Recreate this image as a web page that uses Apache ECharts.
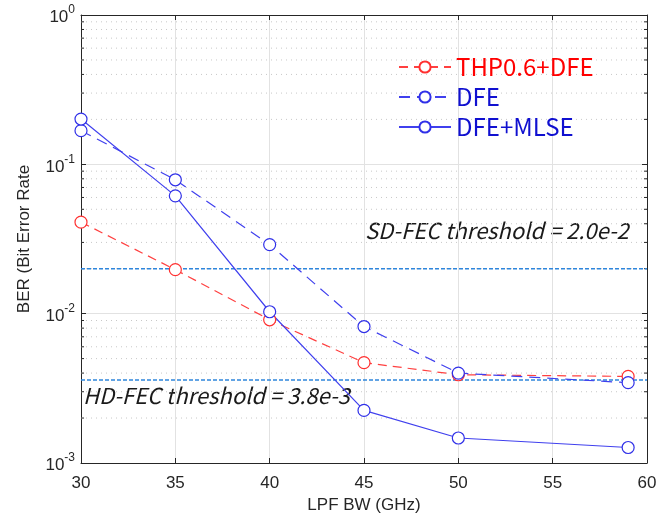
<!DOCTYPE html>
<html>
<head>
<meta charset="utf-8">
<script src="https://cdn.jsdelivr.net/npm/echarts@6/dist/echarts.min.js"></script>
<style>
html,body{margin:0;padding:0;background:#fff;}
#chart{width:672px;height:523px;}
</style>
</head>
<body>
<div id="chart"></div>
<script>
// LPF 带宽
var bw = [30, 35, 40, 45, 50, 59];
// 各方案 BER
var thpDfe = [0.041, 0.0197, 0.0091, 0.0047, 0.0039, 0.0038];
var dfe = [0.168, 0.0788, 0.029, 0.0082, 0.0040, 0.00345];
var dfeMlse = [0.201, 0.0615, 0.0103, 0.00225, 0.00147, 0.00127];
// 门限
var sdFec = 0.02;
var hdFec = 0.0036;
// 对数轴次刻度
var minorTicks = [0.002, 0.003, 0.004, 0.005, 0.006, 0.007, 0.008, 0.009,
	0.02, 0.03, 0.04, 0.05, 0.06, 0.07, 0.08, 0.09,
	0.2, 0.3, 0.4, 0.5, 0.6, 0.7, 0.8, 0.9];

function pairs(ys){
	return bw.map(function(x, i){ return [x, ys[i]]; });
}

var chart = echarts.init(document.getElementById('chart'));
var tickFont = 'Liberation Sans, Arial, sans-serif';
var krFont = 'Noto Sans CJK KR, sans-serif';
var fecLine = {color: '#2f86dc', width: 1.6, type: [4, 2]};

var option = {
	backgroundColor: '#fff',
	animation: false,
	grid: {left: 81, right: 25, top: 15, bottom: 60},
	legend: {
		orient: 'vertical',
		left: 393,
		top: 50,
		itemWidth: 52,
		itemHeight: 14,
		itemGap: 6,
		textStyle: {fontSize: 24, fontFamily: krFont},
		data: [
			{name: 'THP0.6+DFE', textStyle: {color: '#ff0000'}},
			{name: 'DFE', textStyle: {color: '#1010d0'}},
			{name: 'DFE+MLSE', textStyle: {color: '#1010d0'}}
		]
	},
	xAxis: [{
		type: 'value', min: 30, max: 60, interval: 5,
		name: 'LPF BW (GHz)', nameLocation: 'middle', nameGap: 34,
		nameTextStyle: {fontSize: 17, fontFamily: tickFont, color: '#262626'},
		axisLine: {lineStyle: {color: '#262626'}},
		axisTick: {inside: true, length: 5, lineStyle: {color: '#262626'}},
		axisLabel: {fontSize: 17, fontFamily: tickFont, color: '#262626', margin: 12},
		splitLine: {show: true, lineStyle: {color: '#e2e2e2'}}
	}, {
		type: 'value', min: 30, max: 60, interval: 5, position: 'top',
		axisLine: {lineStyle: {color: '#262626'}},
		axisTick: {inside: true, length: 5, lineStyle: {color: '#262626'}},
		axisLabel: {show: false},
		splitLine: {show: false}
	}],
	yAxis: [{
		type: 'log', logBase: 10, min: 0.001, max: 1,
		name: 'BER (Bit Error Rate', nameLocation: 'middle', nameGap: 48, nameRotate: 90,
		nameTextStyle: {fontSize: 17, fontFamily: tickFont, color: '#262626'},
		axisLine: {show: true, lineStyle: {color: '#262626'}},
		axisTick: {inside: true, length: 5, lineStyle: {color: '#262626'}},
		axisLabel: {
			margin: 6,
			formatter: function(v){
				var e = Math.round(Math.log10(v));
				return '{b|10}{s|' + e + '}';
			},
			rich: {
				b: {fontSize: 17, fontFamily: tickFont, color: '#262626', lineHeight: 22, verticalAlign: 'bottom'},
				s: {fontSize: 12, fontFamily: tickFont, color: '#262626', lineHeight: 22, verticalAlign: 'top'}
			}
		},
		splitLine: {show: true, lineStyle: {color: '#e2e2e2'}}
	}, {
		type: 'log', logBase: 10, min: 0.001, max: 1, position: 'right',
		axisLine: {show: true, lineStyle: {color: '#262626'}},
		axisTick: {inside: true, length: 5, lineStyle: {color: '#262626'}},
		axisLabel: {show: false},
		splitLine: {show: false}
	}],
	graphic: [{
		type: 'text', left: 365, top: 220,
		style: {text: 'SD-FEC threshold = 2.0e-2', fontSize: 22, fontStyle: 'italic', fontFamily: krFont, fill: '#1a1a1a'}
	}, {
		type: 'text', left: 83, top: 385,
		style: {text: 'HD-FEC threshold = 3.8e-3', fontSize: 22, fontStyle: 'italic', fontFamily: krFont, fill: '#1a1a1a'}
	}],
	series: [{
		// 次网格 + 次刻度
		type: 'custom', silent: true, z: 1,
		data: minorTicks.map(function(v){ return [30, v]; }),
		renderItem: function(params, api){
			var p0 = api.coord([30, api.value(1)]);
			var p1 = api.coord([60, api.value(1)]);
			var tick = {stroke: '#262626', lineWidth: 1};
			return {type: 'group', children: [
				{type: 'line', shape: {x1: p0[0], y1: p0[1], x2: p1[0], y2: p1[1]},
					style: {stroke: '#c8c8c8', lineWidth: 1, lineDash: [1, 4]}},
				{type: 'line', shape: {x1: p0[0], y1: p0[1], x2: p0[0] + 3, y2: p0[1]}, style: tick},
				{type: 'line', shape: {x1: p1[0] - 3, y1: p1[1], x2: p1[0], y2: p1[1]}, style: tick}
			]};
		}
	}, {
		// SD-FEC 门限
		name: 'sd', type: 'line', z: 3, silent: true, symbol: 'none',
		data: [[30, sdFec], [60, sdFec]],
		lineStyle: fecLine
	}, {
		// HD-FEC 门限
		name: 'hd', type: 'line', z: 3, silent: true, symbol: 'none',
		data: [[30, hdFec], [60, hdFec]],
		lineStyle: fecLine
	}, {
		name: 'THP0.6+DFE', type: 'line', z: 5,
		data: pairs(thpDfe),
		symbol: 'circle', symbolSize: 12, showAllSymbol: true,
		itemStyle: {color: '#fff', borderColor: '#ff3030', borderWidth: 1.2},
		lineStyle: {color: '#ff4040', width: 1.2, type: [9, 6]}
	}, {
		name: 'DFE', type: 'line', z: 5,
		data: pairs(dfe),
		symbol: 'circle', symbolSize: 12, showAllSymbol: true,
		itemStyle: {color: '#fff', borderColor: '#3030e8', borderWidth: 1.2},
		lineStyle: {color: '#4040ee', width: 1.2, type: [11, 7]}
	}, {
		name: 'DFE+MLSE', type: 'line', z: 5,
		data: pairs(dfeMlse),
		symbol: 'circle', symbolSize: 12, showAllSymbol: true,
		itemStyle: {color: '#fff', borderColor: '#3030e8', borderWidth: 1.2},
		lineStyle: {color: '#4040ee', width: 1.2}
	}]
};
chart.setOption(option);
</script>
</body>
</html>
